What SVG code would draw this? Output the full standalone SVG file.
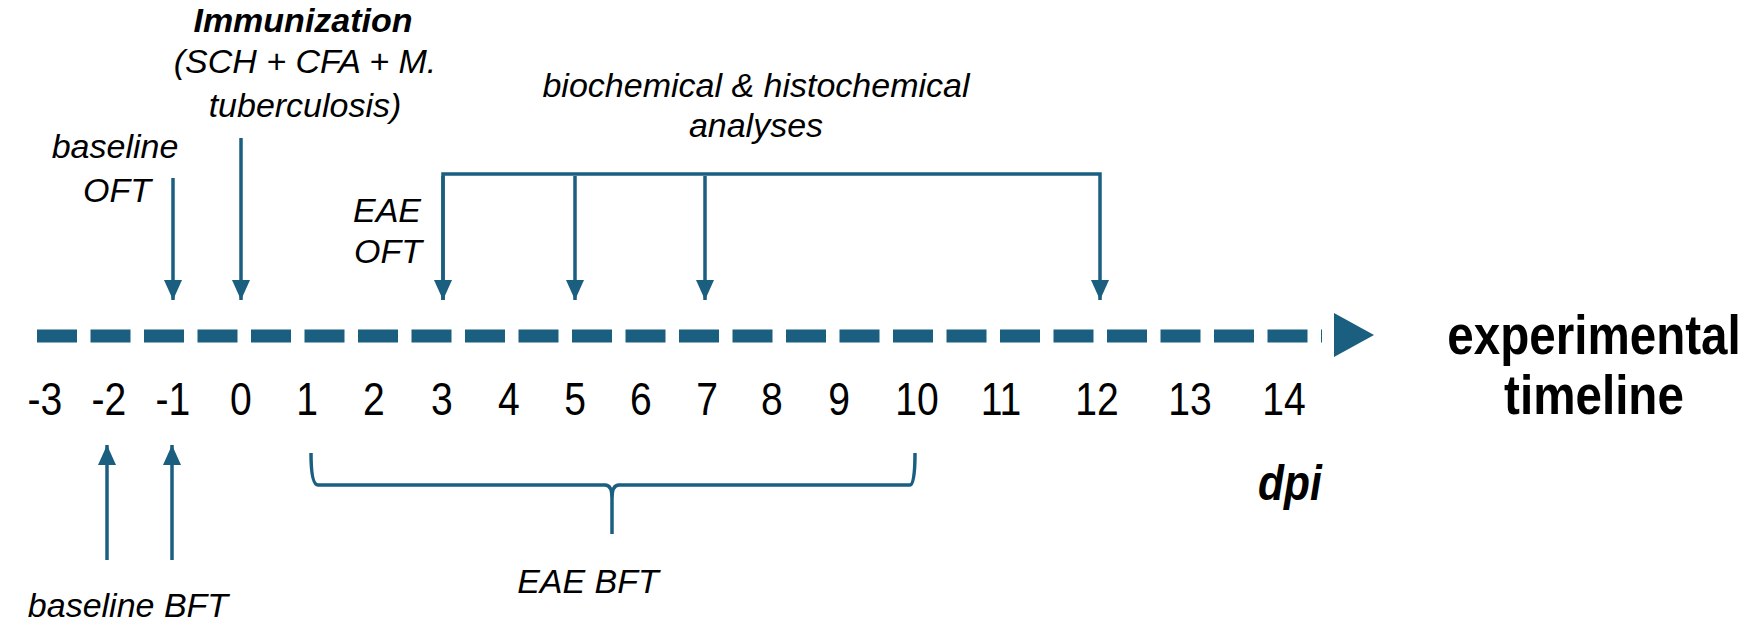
<svg xmlns="http://www.w3.org/2000/svg" width="1746" height="626" viewBox="0 0 1746 626">
<style>
.t{font-family:"Liberation Sans",Arial,sans-serif;fill:#000}
.i{font-style:italic;font-size:34px;text-anchor:middle}
.n{font-size:46px;text-anchor:middle}
.b{font-weight:bold;font-size:56px;text-anchor:middle}
.c{stroke:#1a5e80;stroke-width:3.5;fill:none}
</style>
<defs>
<marker id="ah" viewBox="0 0 20 18" refX="20" refY="9" markerWidth="20" markerHeight="18" markerUnits="userSpaceOnUse" orient="auto">
<path d="M0,0 L20,9 L0,18 z" fill="#1a5e80"/>
</marker>
</defs>
<rect width="1746" height="626" fill="#fff"/>
<g id="timeline">
<line x1="37" y1="336" x2="1322" y2="336" stroke="#1a5e80" stroke-width="13" stroke-dasharray="40 13.5"/>
<polygon points="1334,313 1374,335 1334,357" fill="#1a5e80"/>
</g>
<g id="connectors">
<line class="c" x1="173" y1="178" x2="173" y2="300" marker-end="url(#ah)"/>
<line class="c" x1="241" y1="138" x2="241" y2="300" marker-end="url(#ah)"/>
<polyline class="c" points="443,300 443,174 1100,174 1100,300" marker-end="url(#ah)"/>
<line class="c" x1="443" y1="176" x2="443" y2="300" marker-end="url(#ah)"/>
<line class="c" x1="575" y1="176" x2="575" y2="300" marker-end="url(#ah)"/>
<line class="c" x1="705" y1="176" x2="705" y2="300" marker-end="url(#ah)"/>
<line class="c" x1="107" y1="560" x2="107" y2="445" marker-end="url(#ah)"/>
<line class="c" x1="172" y1="560" x2="172" y2="445" marker-end="url(#ah)"/>
<path class="c" d="M311,453 Q311,485 318,485 L605,485 Q612,485 612,498 L612,534 M612,498 Q612,485 619,485 L910,485 Q915,485 915,453"/>
</g>
<g id="labels">
<text class="t" x="303" y="32" style="font-weight:bold;font-style:italic;font-size:34px;text-anchor:middle">Immunization</text>
<text class="t i" x="305" y="73">(SCH + CFA + M.</text>
<text class="t i" x="305" y="117">tuberculosis)</text>
<text class="t i" x="115" y="158">baseline</text>
<text class="t i" x="117" y="202">OFT</text>
<text class="t i" x="756" y="97">biochemical &amp; histochemical</text>
<text class="t i" x="756" y="137">analyses</text>
<text class="t i" x="387" y="222">EAE</text>
<text class="t i" x="388" y="263">OFT</text>
<text class="t i" x="128" y="617">baseline BFT</text>
<text class="t i" x="588" y="593">EAE BFT</text>
</g>
<g id="bigtext" transform="scale(0.85,1)">
<text class="t b" x="1875.3" y="354">experimental</text>
<text class="t b" x="1875.3" y="414">timeline</text>
<text class="t" x="1517.6" y="500" style="font-weight:bold;font-style:italic;font-size:50px;text-anchor:middle">dpi</text>
</g>
<g id="ticks" transform="scale(0.85,1)">
<text class="t n" x="52.9" y="415">-3</text>
<text class="t n" x="128.2" y="415">-2</text>
<text class="t n" x="203.5" y="415">-1</text>
<text class="t n" x="283.5" y="415">0</text>
<text class="t n" x="361.2" y="415">1</text>
<text class="t n" x="440" y="415">2</text>
<text class="t n" x="520" y="415">3</text>
<text class="t n" x="598.8" y="415">4</text>
<text class="t n" x="676.5" y="415">5</text>
<text class="t n" x="754.1" y="415">6</text>
<text class="t n" x="831.8" y="415">7</text>
<text class="t n" x="908.2" y="415">8</text>
<text class="t n" x="987.1" y="415">9</text>
<text class="t n" x="1078.8" y="415">10</text>
<text class="t n" x="1177.6" y="415">11</text>
<text class="t n" x="1290.6" y="415">12</text>
<text class="t n" x="1400" y="415">13</text>
<text class="t n" x="1510.6" y="415">14</text>
</g>
</svg>
